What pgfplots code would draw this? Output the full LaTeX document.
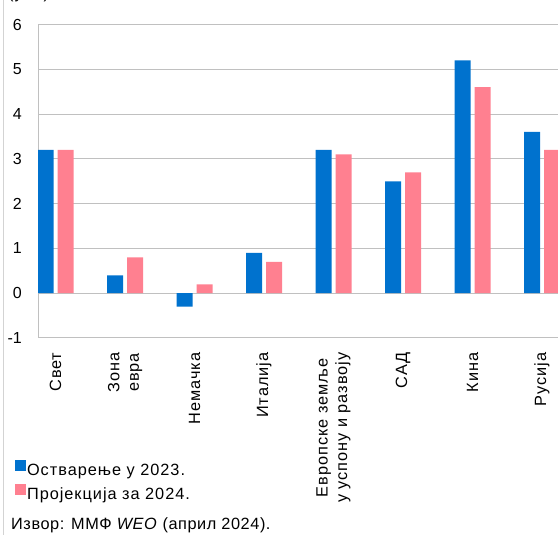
\documentclass[border=0pt]{standalone}
\usepackage{fontspec}
\setmainfont{Liberation Sans}
\usepackage{pgfplots}
\usepackage{pgfplotstable}
\pgfplotsset{compat=1.18}
\definecolor{bblue}{RGB}{0,114,206}
\definecolor{bpink}{RGB}{255,128,144}
\definecolor{gridc}{RGB}{192,192,192}
\newcommand{\lsp}{\fontsize{16.3bp}{19.5bp}\selectfont\addfontfeatures{LetterSpace=6}}

% growth of GDP, actual 2023 and projection 2024
\pgfplotstableread{
x a b
0 3.2 3.2
1 0.4 0.8
2 -0.3 0.2
3 0.9 0.7
4 3.2 3.1
5 2.5 2.7
6 5.2 4.6
7 3.6 3.2
}\gdp

\begin{document}
\begin{tikzpicture}[font=\fontsize{16bp}{19.5bp}\selectfont]
\useasboundingbox (0,0) rectangle (558bp,535bp);
\draw[gridc!70, line width=1bp] (3bp,0) -- (3bp,540bp);
\node[anchor=base west, inner sep=0pt, font=\lsp] at (8bp,536bp) {(у \%)};
\begin{axis}[
  at={(38bp,197bp)}, anchor=south west,
  scale only axis, width=531.8bp, height=313.5bp,
  xmin=-0.252, xmax=7.4, ymin=-1, ymax=6,
  ybar=4bp, bar width=16bp,
  axis line style={gridc, line width=1bp},
  ytick={-1,0,...,6},
  ymajorgrids, grid style={gridc, line width=1bp},
  major tick length=0pt,
  xtick={0,...,7},
  xticklabels={Свет,{Зона\\евра},Немачка,Италија,{Европске земље\\у успону и развоју},САД,Кина,Русија},
  tick label style={font=\fontsize{16bp}{19.5bp}\selectfont},
  /pgf/number format/assume math mode=true,
  xticklabel style={rotate=90, anchor=east, align=center, font=\lsp},
  xticklabel shift=11bp,
  yticklabel style={xshift=-12.7bp},
  legend style={draw=none, fill=none, inner sep=0pt, outer sep=0pt,
    at={(-0.044,-0.3907)}, anchor=north west,
    nodes={inner sep=1.5bp, text height=12bp, text depth=4bp},
    row sep=3bp, font=\lsp},
  legend cell align=left,
  legend image code/.code={\fill[#1] (0bp,0.5bp) rectangle (11bp,11.5bp);},
]
\addplot[fill=bblue, draw=none] table[x=x, y=a] {\gdp};
\addlegendentry{Остварење у 2023.}
\addplot[fill=bpink, draw=none] table[x=x, y=b] {\gdp};
\addlegendentry{Пројекција за 2024.}
\end{axis}
\node[anchor=base west, inner sep=0pt,
  font=\fontsize{16.3bp}{19.5bp}\selectfont\addfontfeatures{LetterSpace=3.5}]
  at (11bp,6bp) {Извор: ММФ \textit{WEO} (април 2024).};
\end{tikzpicture}
\end{document}
